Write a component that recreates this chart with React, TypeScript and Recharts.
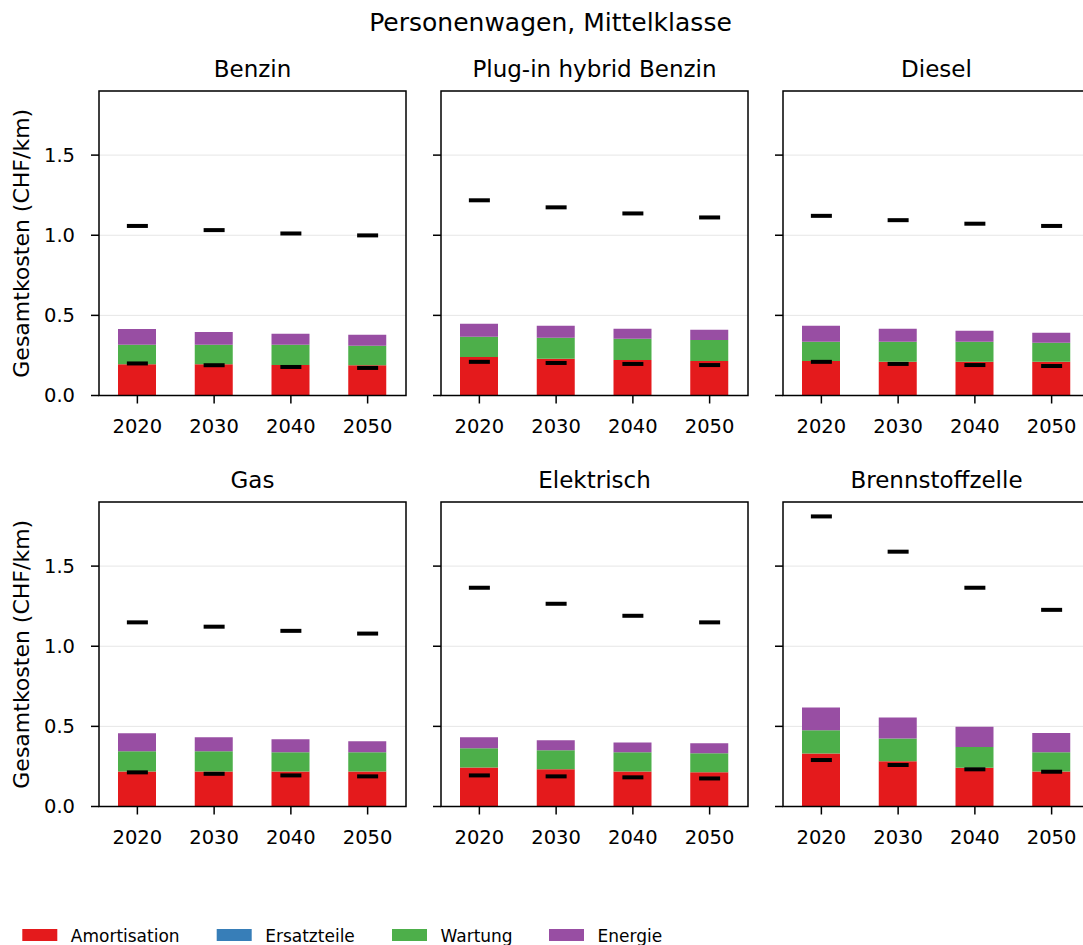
import { Bar, CartesianGrid, ComposedChart, Line, XAxis, YAxis } from 'recharts'

const YEARS = ['2020', '2030', '2040', '2050']
const PANELS = ['Benzin', 'Plug-in hybrid Benzin', 'Diesel', 'Gas', 'Elektrisch', 'Brennstoffzelle']

// one row per panel, one value per year (CHF/km)
const AMORTISATION = [
  [0.195, 0.195, 0.191, 0.189],
  [0.241, 0.229, 0.222, 0.216],
  [0.216, 0.21, 0.21, 0.21],
  [0.219, 0.219, 0.219, 0.219],
  [0.244, 0.232, 0.219, 0.213],
  [0.33, 0.282, 0.242, 0.219],
]
const ERSATZTEILE = [
  [0, 0, 0, 0],
  [0, 0, 0, 0],
  [0, 0, 0, 0],
  [0, 0, 0, 0],
  [0, 0, 0, 0],
  [0, 0, 0, 0],
]
const WARTUNG = [
  [0.121, 0.121, 0.125, 0.121],
  [0.125, 0.131, 0.132, 0.131],
  [0.119, 0.125, 0.125, 0.119],
  [0.125, 0.125, 0.119, 0.119],
  [0.119, 0.119, 0.119, 0.119],
  [0.146, 0.142, 0.129, 0.119],
]
const ENERGIE = [
  [0.099, 0.08, 0.069, 0.069],
  [0.082, 0.075, 0.062, 0.063],
  [0.1, 0.081, 0.069, 0.062],
  [0.113, 0.088, 0.082, 0.069],
  [0.069, 0.062, 0.062, 0.062],
  [0.142, 0.131, 0.126, 0.121],
]
const UPPER_MARK = [
  [1.058, 1.032, 1.011, 0.999],
  [1.218, 1.174, 1.136, 1.111],
  [1.121, 1.094, 1.072, 1.058],
  [1.149, 1.122, 1.096, 1.079],
  [1.365, 1.265, 1.19, 1.149],
  [1.81, 1.59, 1.365, 1.227],
]
const LOWER_MARK = [
  [0.2, 0.189, 0.178, 0.172],
  [0.21, 0.203, 0.197, 0.19],
  [0.21, 0.197, 0.19, 0.184],
  [0.213, 0.204, 0.194, 0.188],
  [0.194, 0.188, 0.182, 0.175],
  [0.29, 0.259, 0.232, 0.217],
]
const Y_TICKS = [0, 0.5, 1.0, 1.5]

const SERIES = [
  { key: 'Amortisation', color: '#e41a1c' },
  { key: 'Ersatzteile', color: '#377eb8' },
  { key: 'Wartung', color: '#4daf4a' },
  { key: 'Energie', color: '#984ea3' },
]

const FONT = 'DejaVu Sans, sans-serif'
const COL_LEFT = [99, 441, 783]
const ROW_TOP = [91, 502]
const PLOT_W = 307
const PLOT_H = 304.5
const M_LEFT = 90
const M_TOP = 10
const M_RIGHT = 10
const X_AXIS_H = 50
const LEGEND_X = [22.3, 216.7, 392, 549]

function Dash(props: any) {
  const { cx, cy, index } = props
  if (cx == null || cy == null) return <g key={index} />
  return <rect key={index} x={cx - 10.5} y={cy - 2} width={21} height={4} fill="#000" />
}

function Panel({ idx }: { idx: number }) {
  const col = idx % 3
  const row = Math.floor(idx / 3)
  const data = YEARS.map((year, i) => ({
    year,
    Amortisation: AMORTISATION[idx][i],
    Ersatzteile: ERSATZTEILE[idx][i],
    Wartung: WARTUNG[idx][i],
    Energie: ENERGIE[idx][i],
    upper: UPPER_MARK[idx][i],
    lower: LOWER_MARK[idx][i],
  }))
  const tickStyle = { fill: '#000', fontSize: 19.5, fontFamily: FONT }
  return (
    <div style={{ position: 'absolute', left: COL_LEFT[col] - M_LEFT, top: ROW_TOP[row] - M_TOP }}>
      <ComposedChart
        width={M_LEFT + PLOT_W + M_RIGHT}
        height={M_TOP + PLOT_H + X_AXIS_H}
        data={data}
        margin={{ top: M_TOP, right: M_RIGHT, bottom: 0, left: 0 }}
      >
        <CartesianGrid vertical={false} stroke="#e6e6e6" strokeWidth={1} />
        <XAxis
          dataKey="year"
          height={X_AXIS_H}
          axisLine={false}
          tickSize={8}
          tickMargin={16}
          tickLine={{ stroke: '#000', strokeWidth: 1.5 }}
          tick={tickStyle}
          interval={0}
        />
        <YAxis
          width={M_LEFT}
          domain={[0, 1.9]}
          ticks={Y_TICKS}
          allowDataOverflow
          axisLine={false}
          tickSize={8}
          tickMargin={16}
          tickLine={{ stroke: '#000', strokeWidth: 1.5 }}
          tick={tickStyle}
          tickFormatter={(v: number) => (col === 0 ? v.toFixed(1) : '')}
        />
        {SERIES.map((s) => (
          <Bar key={s.key} dataKey={s.key} stackId="a" fill={s.color} barSize={38} isAnimationActive={false} />
        ))}
        <Line dataKey="upper" stroke="none" dot={Dash} activeDot={false} isAnimationActive={false} />
        <Line dataKey="lower" stroke="none" dot={Dash} activeDot={false} isAnimationActive={false} />
      </ComposedChart>
    </div>
  )
}

export default function App() {
  return (
    <div
      style={{
        position: 'absolute',
        left: 0,
        top: 0,
        width: 1083,
        height: 945,
        overflow: 'hidden',
        background: '#fff',
        fontFamily: FONT,
      }}
    >
      {PANELS.map((_, i) => (
        <Panel key={i} idx={i} />
      ))}
      <svg width={1083} height={945} style={{ position: 'absolute', left: 0, top: 0, pointerEvents: 'none' }}>
        <text x={550.5} y={31} textAnchor="middle" fontSize={25} fontFamily={FONT} fill="#000">
          Personenwagen, Mittelklasse
        </text>
        {PANELS.map((name, i) => {
          const col = i % 3
          const row = Math.floor(i / 3)
          const x = COL_LEFT[col]
          const y = ROW_TOP[row]
          return (
            <g key={name}>
              <rect x={x} y={y} width={PLOT_W} height={PLOT_H} fill="none" stroke="#000" strokeWidth={1.5} />
              <text x={x + PLOT_W / 2} y={y - 14} textAnchor="middle" fontSize={23} fontFamily={FONT} fill="#000">
                {name}
              </text>
            </g>
          )
        })}
        {ROW_TOP.map((top) => {
          const cy = top + PLOT_H / 2
          return (
            <text
              key={top}
              x={29}
              y={cy}
              transform={`rotate(-90, 29, ${cy})`}
              textAnchor="middle"
              fontSize={22}
              fontFamily={FONT}
              fill="#000"
            >
              Gesamtkosten (CHF/km)
            </text>
          )
        })}
        {SERIES.map((s, i) => (
          <g key={s.key}>
            <rect x={LEGEND_X[i]} y={929} width={35} height={12} fill={s.color} />
            <text x={LEGEND_X[i] + 48.5} y={941.5} fontSize={17} fontFamily={FONT} fill="#000">
              {s.key}
            </text>
          </g>
        ))}
      </svg>
    </div>
  )
}
